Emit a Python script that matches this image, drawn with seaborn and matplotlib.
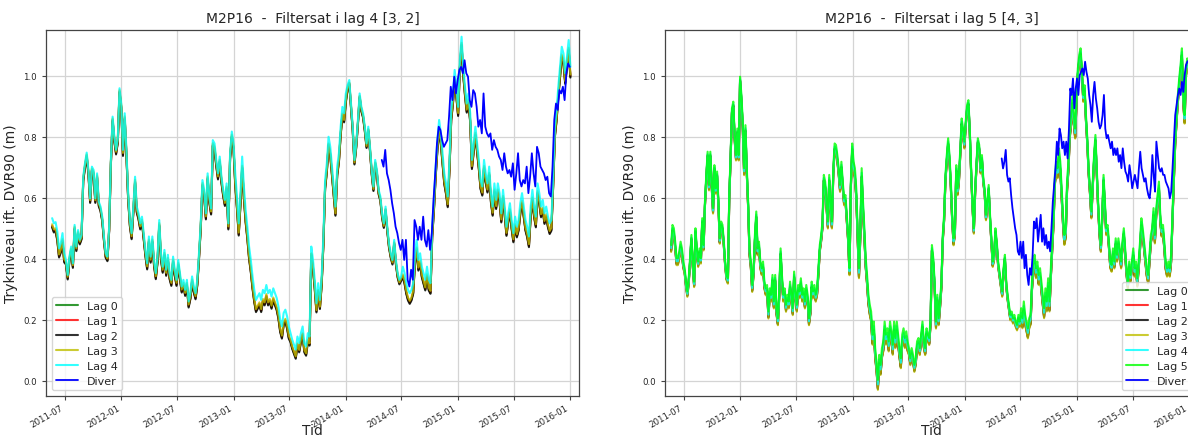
import numpy as np
import pandas as pd
import matplotlib
matplotlib.use("Agg")
import matplotlib.pyplot as plt
import matplotlib.dates as mdates
import seaborn as sns

# ---------------- data ----------------
left_title = "M2P16  -  Filtersat i lag 4 [3, 2]"
right_title = "M2P16  -  Filtersat i lag 5 [4, 3]"
y_label = "Trykniveau ift. DVR90 (m)"
x_label = "Tid"

# Filter layer (Lag 4) head, left well, evenly sampled
left_main_period = ("2011-05-21", "2016-01-02")
left_main = [
    0.533, 0.516, 0.52, 0.489, 0.434, 0.45, 0.484, 0.418, 0.396, 0.347, 0.407, 0.44, 0.385, 0.511, 0.44, 0.494,
    0.462, 0.478, 0.669, 0.713, 0.748, 0.691, 0.598, 0.702, 0.691, 0.598, 0.68, 0.587, 0.571, 0.538, 0.473, 0.418,
    0.407, 0.505, 0.724, 0.866, 0.8, 0.757, 0.795, 0.959, 0.909, 0.757, 0.877, 0.757, 0.615, 0.527, 0.484, 0.571,
    0.669, 0.571, 0.549, 0.516, 0.538, 0.484, 0.429, 0.385, 0.473, 0.407, 0.473, 0.396, 0.353, 0.407, 0.527, 0.418,
    0.374, 0.429, 0.364, 0.413, 0.353, 0.331, 0.407, 0.364, 0.331, 0.396, 0.353, 0.309, 0.331, 0.298, 0.331, 0.26,
    0.287, 0.342, 0.309, 0.287, 0.331, 0.418, 0.516, 0.658, 0.626, 0.549, 0.68, 0.604, 0.565, 0.789, 0.778, 0.724,
    0.68, 0.735, 0.669, 0.626, 0.593, 0.647, 0.516, 0.746, 0.817, 0.778, 0.68, 0.604, 0.516, 0.615, 0.735, 0.637,
    0.56, 0.505, 0.44, 0.396, 0.342, 0.298, 0.265, 0.276, 0.287, 0.265, 0.298, 0.287, 0.314, 0.287, 0.298, 0.276,
    0.303, 0.287, 0.271, 0.243, 0.2, 0.178, 0.222, 0.233, 0.211, 0.178, 0.156, 0.134, 0.118, 0.102, 0.145, 0.123,
    0.156, 0.178, 0.123, 0.112, 0.156, 0.145, 0.44, 0.396, 0.331, 0.254, 0.32, 0.265, 0.342, 0.473, 0.658, 0.713,
    0.8, 0.767, 0.702, 0.637, 0.571, 0.702, 0.746, 0.833, 0.898, 0.877, 0.942, 0.969, 0.986, 0.909, 0.833, 0.724,
    0.778, 0.855, 0.942, 0.898, 0.877, 0.833, 0.778, 0.833, 0.767, 0.691, 0.637, 0.724, 0.691, 0.626, 0.604, 0.549,
    0.516, 0.571, 0.505, 0.451, 0.418, 0.396, 0.462, 0.396, 0.353, 0.331, 0.342, 0.374, 0.353, 0.32, 0.298, 0.287,
    0.298, 0.32, 0.418, 0.462, 0.396, 0.418, 0.374, 0.353, 0.331, 0.374, 0.331, 0.32, 0.505, 0.593, 0.702, 0.789,
    0.855, 0.811, 0.746, 0.68, 0.647, 0.604, 0.724, 0.888, 0.942, 1.019, 0.964, 0.898, 1.051, 1.128, 1.029, 0.964,
    0.909, 0.942, 0.877, 0.724, 0.778, 0.833, 0.778, 0.724, 0.658, 0.637, 0.724, 0.68, 0.647, 0.702, 0.615, 0.571,
    0.647, 0.593, 0.647, 0.615, 0.549, 0.626, 0.571, 0.505, 0.549, 0.582, 0.527, 0.484, 0.538, 0.505, 0.527, 0.582,
    0.615, 0.571, 0.527, 0.505, 0.473, 0.571, 0.626, 0.571, 0.538, 0.647, 0.615, 0.571, 0.593, 0.549, 0.571, 0.538,
    0.516, 0.527, 0.669, 0.833, 0.888, 0.964, 1.029, 1.095, 1.073, 1.008, 1.062, 1.117, 1.029,
]

# Other layers relative to Lag 4, per half-year 2011H1 .. 2015H2
left_offsets = {
    "Lag 0": [-0.027, -0.012, -0.017, -0.017, -0.037, -0.027, -0.012, -0.032, -0.027, -0.032],
    "Lag 1": [-0.025, -0.010, -0.015, -0.015, -0.035, -0.025, -0.010, -0.030, -0.025, -0.030],
    "Lag 2": [-0.030, -0.015, -0.020, -0.020, -0.040, -0.030, -0.015, -0.035, -0.030, -0.035],
    "Lag 3": [-0.020, -0.006, -0.010, -0.010, -0.030, -0.022, -0.008, -0.025, -0.020, -0.025],
}

left_diver_period = ("2014-04-28", "2015-12-31")
left_diver = [
    0.724, 0.702, 0.757, 0.68, 0.658, 0.626, 0.582, 0.549, 0.505, 0.484, 0.451, 0.429, 0.462, 0.396, 0.462, 0.331,
    0.309, 0.364, 0.331, 0.527, 0.505, 0.462, 0.505, 0.462, 0.538, 0.462, 0.44, 0.494, 0.429, 0.484, 0.593, 0.68,
    0.778, 0.833, 0.822, 0.789, 0.767, 0.778, 0.789, 0.866, 0.964, 0.92, 0.997, 0.942, 0.986, 1.019, 1.029, 1.008,
    1.051, 1.008, 0.997, 0.92, 0.898, 0.953, 0.942, 0.898, 0.833, 0.855, 0.811, 0.942, 0.833, 0.811, 0.8, 0.811,
    0.757, 0.789, 0.767, 0.757, 0.735, 0.724, 0.691, 0.746, 0.702, 0.68, 0.691, 0.669, 0.713, 0.626, 0.68, 0.746,
    0.658, 0.637, 0.658, 0.647, 0.702, 0.615, 0.669, 0.746, 0.68, 0.637, 0.767, 0.746, 0.702, 0.691, 0.68, 0.658,
    0.669, 0.615, 0.604, 0.702, 0.855, 0.909, 0.888, 0.953, 0.942, 0.964, 0.92, 1.008, 1.04, 1.029,
]

# Filter layer (Lag 5) head, right well, evenly sampled
right_main_period = ("2011-05-21", "2016-01-04")
right_main = [
    0.445, 0.511, 0.5, 0.456, 0.402, 0.402, 0.424, 0.456, 0.434, 0.391, 0.369, 0.325, 0.293, 0.336, 0.402, 0.478,
    0.391, 0.325, 0.5, 0.434, 0.391, 0.434, 0.402, 0.533, 0.445, 0.587, 0.675, 0.751, 0.642, 0.751, 0.653, 0.566,
    0.707, 0.631, 0.686, 0.587, 0.467, 0.522, 0.511, 0.456, 0.391, 0.347, 0.336, 0.609, 0.74, 0.893, 0.915, 0.806,
    0.74, 0.827, 0.74, 0.997, 0.937, 0.849, 0.697, 0.838, 0.697, 0.587, 0.434, 0.391, 0.314, 0.369, 0.478, 0.555,
    0.434, 0.456, 0.391, 0.369, 0.391, 0.325, 0.303, 0.314, 0.227, 0.303, 0.282, 0.347, 0.26, 0.347, 0.238, 0.205,
    0.293, 0.434, 0.347, 0.282, 0.303, 0.249, 0.282, 0.26, 0.325, 0.282, 0.238, 0.358, 0.293, 0.249, 0.314, 0.293,
    0.336, 0.282, 0.303, 0.26, 0.314, 0.282, 0.205, 0.238, 0.325, 0.293, 0.314, 0.282, 0.303, 0.369, 0.445, 0.478,
    0.522, 0.675, 0.653, 0.587, 0.522, 0.675, 0.587, 0.522, 0.697, 0.778, 0.773, 0.74, 0.697, 0.642, 0.718, 0.653,
    0.598, 0.609, 0.544, 0.478, 0.369, 0.653, 0.778, 0.718, 0.697, 0.631, 0.5, 0.369, 0.5, 0.697, 0.587, 0.5,
    0.402, 0.347, 0.282, 0.249, 0.227, 0.151, 0.194, 0.107, 0.063, 0.003, 0.085, 0.052, 0.107, 0.129, 0.194, 0.151,
    0.172, 0.129, 0.194, 0.162, 0.118, 0.194, 0.14, 0.194, 0.151, 0.107, 0.074, 0.151, 0.172, 0.14, 0.162, 0.129,
    0.107, 0.074, 0.107, 0.085, 0.052, 0.074, 0.129, 0.14, 0.107, 0.151, 0.194, 0.129, 0.107, 0.172, 0.151, 0.14,
    0.205, 0.445, 0.402, 0.325, 0.194, 0.282, 0.205, 0.26, 0.325, 0.478, 0.544, 0.675, 0.74, 0.795, 0.74, 0.653,
    0.544, 0.467, 0.5, 0.707, 0.631, 0.675, 0.762, 0.86, 0.827, 0.784, 0.849, 0.904, 0.92, 0.827, 0.697, 0.587,
    0.5, 0.631, 0.718, 0.795, 0.773, 0.697, 0.74, 0.664, 0.631, 0.544, 0.587, 0.642, 0.544, 0.467, 0.391, 0.413,
    0.5, 0.456, 0.391, 0.358, 0.325, 0.293, 0.369, 0.413, 0.325, 0.282, 0.249, 0.216, 0.227, 0.205, 0.216, 0.194,
    0.183, 0.216, 0.194, 0.238, 0.205, 0.26, 0.216, 0.194, 0.172, 0.205, 0.216, 0.325, 0.391, 0.413, 0.369, 0.391,
    0.347, 0.369, 0.325, 0.282, 0.238, 0.303, 0.26, 0.336, 0.26, 0.369, 0.456, 0.544, 0.675, 0.718, 0.697, 0.762,
    0.718, 0.631, 0.544, 0.478, 0.5, 0.653, 0.718, 0.827, 0.871, 0.937, 0.871, 0.827, 0.937, 1.024, 1.068, 1.09,
    1.024, 0.937, 0.969, 0.871, 0.795, 0.697, 0.631, 0.555, 0.653, 0.74, 0.806, 0.697, 0.587, 0.5, 0.445, 0.544,
    0.675, 0.587, 0.5, 0.511, 0.456, 0.391, 0.38, 0.434, 0.391, 0.467, 0.413, 0.467, 0.434, 0.391, 0.456, 0.5,
    0.434, 0.369, 0.325, 0.391, 0.347, 0.391, 0.434, 0.369, 0.391, 0.336, 0.391, 0.456, 0.533, 0.5, 0.456, 0.413,
    0.369, 0.347, 0.413, 0.478, 0.5, 0.566, 0.478, 0.566, 0.609, 0.653, 0.544, 0.5, 0.511, 0.456, 0.391, 0.369,
    0.391, 0.369, 0.413, 0.544, 0.675, 0.795, 0.871, 0.937, 0.992, 1.035, 1.09, 0.937, 0.871, 1.024, 1.057, 1.04,
    1.06,
]

# Other layers relative to Lag 5, per half-year 2011H1 .. 2015H2
right_offsets = {
    "Lag 0": [-0.018, -0.013, -0.018, -0.018, -0.028, -0.018, -0.013, -0.028, -0.018, -0.023],
    "Lag 1": [-0.016, -0.011, -0.016, -0.016, -0.026, -0.016, -0.011, -0.026, -0.016, -0.021],
    "Lag 2": [-0.020, -0.015, -0.020, -0.020, -0.030, -0.020, -0.015, -0.030, -0.020, -0.025],
    "Lag 3": [-0.023, -0.018, -0.023, -0.023, -0.033, -0.023, -0.018, -0.033, -0.023, -0.028],
    "Lag 4": [-0.010, -0.008, -0.010, -0.010, -0.015, -0.010, -0.008, -0.015, -0.010, -0.012],
}

right_diver_period = ("2014-05-01", "2016-01-04")
right_diver = [
    0.729, 0.696, 0.718, 0.757, 0.675, 0.653, 0.664, 0.609, 0.566, 0.533, 0.5, 0.478, 0.424, 0.413, 0.456, 0.402,
    0.456, 0.369, 0.413, 0.347, 0.314, 0.369, 0.347, 0.413, 0.522, 0.5, 0.533, 0.456, 0.5, 0.544, 0.456, 0.5,
    0.445, 0.478, 0.434, 0.456, 0.424, 0.5, 0.587, 0.642, 0.697, 0.784, 0.74, 0.827, 0.806, 0.762, 0.784, 0.74,
    0.784, 0.729, 0.827, 0.958, 0.937, 0.991, 0.893, 0.958, 0.991, 0.937, 1.002, 1.013, 1.024, 1.002, 1.046, 1.013,
    0.991, 0.937, 0.904, 0.849, 0.937, 0.98, 0.926, 0.893, 0.849, 0.827, 0.838, 0.871, 0.937, 0.827, 0.795, 0.806,
    0.784, 0.762, 0.784, 0.74, 0.762, 0.74, 0.762, 0.718, 0.74, 0.697, 0.762, 0.718, 0.686, 0.675, 0.653, 0.707,
    0.675, 0.631, 0.653, 0.675, 0.653, 0.631, 0.697, 0.751, 0.697, 0.675, 0.653, 0.664, 0.631, 0.609, 0.598, 0.642,
    0.74, 0.675, 0.62, 0.784, 0.74, 0.697, 0.686, 0.697, 0.675, 0.675, 0.653, 0.642, 0.631, 0.598, 0.62, 0.697,
    0.784, 0.871, 0.904, 0.937, 0.958, 0.937, 0.98, 0.947, 1.002, 1.035, 1.046, 1.05, 1.04,
]

layer_colors = {
    "Lag 0": "g", "Lag 1": "r", "Lag 2": "k", "Lag 3": "y",
    "Lag 4": "cyan", "Lag 5": "lime", "Diver": "b",
}


def series_frame(values, period):
    dates = pd.date_range(period[0], period[1], periods=len(values))
    return pd.DataFrame({"Tid": dates, "niveau": np.asarray(values, dtype=float)})


def layer_frame(main_df, offsets):
    half = (main_df["Tid"].dt.year - 2011) * 2 + (main_df["Tid"].dt.month > 6).astype(int)
    half = np.clip(half.to_numpy(), 0, len(offsets) - 1)
    return pd.DataFrame({"Tid": main_df["Tid"],
                         "niveau": main_df["niveau"].to_numpy() + np.asarray(offsets)[half]})


def draw_panel(ax, title, main_name, main_vals, main_period, offsets, diver_vals, diver_period, legend_loc):
    main_df = series_frame(main_vals, main_period)
    for name, offs in offsets.items():
        df = layer_frame(main_df, offs)
        sns.lineplot(data=df, x="Tid", y="niveau", ax=ax, color=layer_colors[name],
                     label=name, linewidth=1.5, alpha=0.8, estimator=None, sort=False)
    sns.lineplot(data=main_df, x="Tid", y="niveau", ax=ax, color=layer_colors[main_name],
                 label=main_name, linewidth=1.5, alpha=0.8, estimator=None, sort=False)
    diver_df = series_frame(diver_vals, diver_period)
    sns.lineplot(data=diver_df, x="Tid", y="niveau", ax=ax, color=layer_colors["Diver"],
                 label="Diver", linewidth=1.3, estimator=None, sort=False)

    ax.set_title(title, fontsize=10)
    ax.set_xlabel(x_label, fontsize=10, labelpad=-4)
    ax.set_ylabel(y_label, fontsize=10)
    ax.set_xlim(pd.Timestamp("2011-05-01"), pd.Timestamp("2016-01-30"))
    ax.set_ylim(-0.05, 1.15)
    ax.set_yticks([0.0, 0.2, 0.4, 0.6, 0.8, 1.0])
    ax.yaxis.set_major_formatter(matplotlib.ticker.FormatStrFormatter("%.1f"))
    ax.xaxis.set_major_locator(mdates.MonthLocator(bymonth=[1, 7]))
    ax.xaxis.set_major_formatter(mdates.DateFormatter("%Y-%m"))
    ax.tick_params(axis="both", labelsize=6.2, length=3, width=0.8, color="#444444")
    ax.tick_params(axis="x", pad=2)
    for lbl in ax.get_xticklabels():
        lbl.set_rotation(30)
        lbl.set_ha("right")
    ax.grid(True, color="#d4d4d4", linewidth=0.9)
    for sp in ax.spines.values():
        sp.set_color("#444444")
        sp.set_linewidth(0.9)
    ax.legend(loc=legend_loc, fontsize=8, handlelength=2.0, borderpad=0.4,
              labelspacing=0.45, framealpha=0.8, edgecolor="#cccccc")


sns.set_style("ticks")
plt.rcParams["font.family"] = ["DejaVu Sans"]

fig = plt.figure(figsize=(11.88, 4.39), dpi=100)
ax_left = fig.add_axes([46 / 1188, 42 / 439, 533 / 1188, 366 / 439])
ax_right = fig.add_axes([665 / 1188, 42 / 439, 533 / 1188, 366 / 439])

draw_panel(ax_left, left_title, "Lag 4", left_main, left_main_period, left_offsets,
           left_diver, left_diver_period, "lower left")
draw_panel(ax_right, right_title, "Lag 5", right_main, right_main_period, right_offsets,
           right_diver, right_diver_period, "lower right")

fig.savefig("out.png", dpi=100)
